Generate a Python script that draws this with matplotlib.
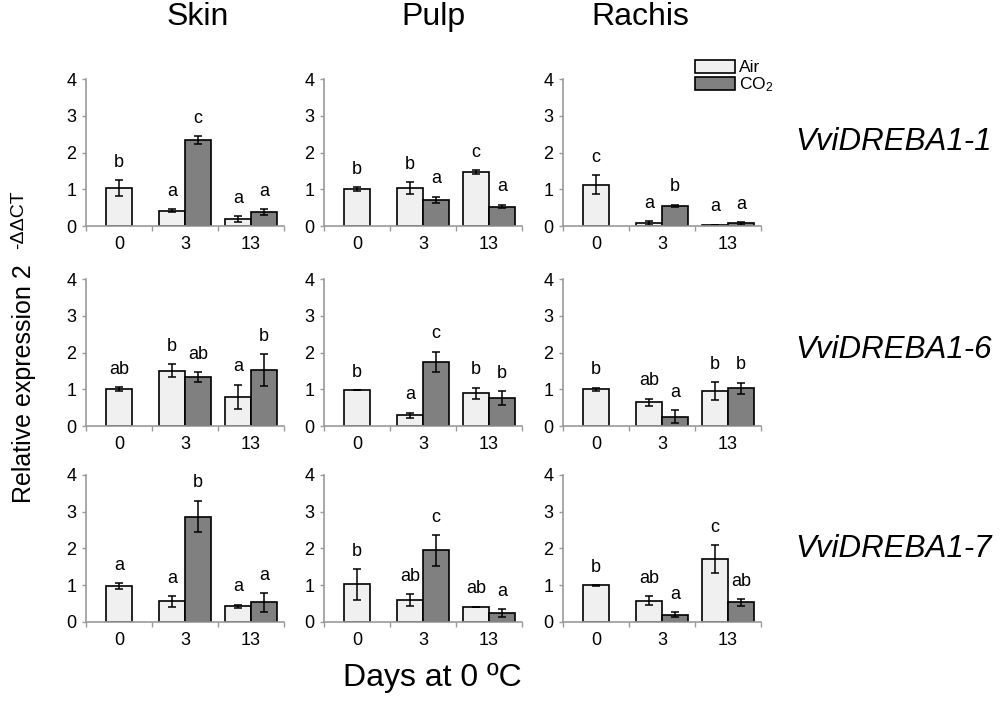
import numpy as np
import matplotlib.pyplot as plt
from matplotlib.ticker import FixedLocator, NullFormatter

plt.rcParams['font.family'] = ['Liberation Sans', 'DejaVu Sans']
plt.rcParams['mathtext.fontset'] = 'custom'
plt.rcParams['mathtext.rm'] = 'Liberation Sans'
plt.rcParams['mathtext.it'] = 'Liberation Sans:italic'

days = ['0', '3', '13']
tissues = ['Skin', 'Pulp', 'Rachis']
genes = ['VviDREBA1-1', 'VviDREBA1-6', 'VviDREBA1-7']

# [gene][tissue] -> values for day 0, 3, 13 (CO2 has no day 0 value)
air = [
    [[1.03, 0.42, 0.19], [1.00, 1.03, 1.47], [1.13, 0.08, 0.03]],
    [[1.01, 1.51, 0.80], [0.98, 0.30, 0.90], [1.00, 0.65, 0.95]],
    [[0.98, 0.56, 0.43], [1.02, 0.60, 0.42], [1.00, 0.58, 1.72]],
]
air_err = [
    [[0.22, 0.04, 0.07], [0.06, 0.16, 0.055], [0.25, 0.05, 0.01]],
    [[0.055, 0.17, 0.33], [0.01, 0.07, 0.15], [0.05, 0.10, 0.25]],
    [[0.08, 0.14, 0.045], [0.42, 0.16, 0.0], [0.01, 0.12, 0.38]],
]
co2 = [
    [[np.nan, 2.33, 0.39], [np.nan, 0.71, 0.53], [np.nan, 0.55, 0.07]],
    [[np.nan, 1.33, 1.53], [np.nan, 1.75, 0.77], [np.nan, 0.26, 1.03]],
    [[np.nan, 2.87, 0.53], [np.nan, 1.95, 0.25], [np.nan, 0.20, 0.53]],
]
co2_err = [
    [[0, 0.11, 0.08], [0, 0.09, 0.05], [0, 0.03, 0.03]],
    [[0, 0.13, 0.43], [0, 0.28, 0.19], [0, 0.18, 0.155]],
    [[0, 0.43, 0.25], [0, 0.42, 0.11], [0, 0.06, 0.095]],
]
air_letters = [
    [['b', 'a', 'a'], ['b', 'b', 'c'], ['c', 'a', 'a']],
    [['ab', 'b', 'a'], ['b', 'a', 'b'], ['b', 'ab', 'b']],
    [['a', 'a', 'a'], ['b', 'ab', 'ab'], ['b', 'ab', 'c']],
]
co2_letters = [
    [['', 'c', 'a'], ['', 'a', 'a'], ['', 'b', 'a']],
    [['', 'ab', 'b'], ['', 'c', 'b'], ['', 'a', 'b']],
    [['', 'b', 'a'], ['', 'c', 'a'], ['', 'a', 'ab']],
]

fig = plt.figure(figsize=(10, 7.02), dpi=100)

lefts = [0.086, 0.324, 0.563]
bottoms = [0.678, 0.393, 0.114]
w, h = 0.198, 0.2094
bw = 0.4
axis_col = '#9a9a9a'

for r in range(3):
    for c in range(3):
        ax = fig.add_axes([lefts[c], bottoms[r], w, h])
        x = np.arange(3)
        a = np.array(air[r][c])
        ae = np.array(air_err[r][c])
        g = np.array(co2[r][c])
        ge = np.array(co2_err[r][c])
        # day 0 has only the air bar, centered
        xa = np.array([0, 1 - bw / 2, 2 - bw / 2])
        xg = np.array([0, 1 + bw / 2, 2 + bw / 2])
        b1 = ax.bar(xa, a, bw, color='#f0f0f0', edgecolor='black', linewidth=1.2,
                    yerr=ae, capsize=3,
                    error_kw=dict(ecolor='black', elinewidth=1.1, capthick=1.1),
                    label='Air', zorder=2)
        b2 = ax.bar(xg[1:], g[1:], bw, color='#808080', edgecolor='black', linewidth=1.2,
                    yerr=ge[1:], capsize=3,
                    error_kw=dict(ecolor='black', elinewidth=1.1, capthick=1.1),
                    label='CO$_2$', zorder=2)
        for i in range(3):
            ax.text(xa[i], a[i] + ae[i] + 0.36, air_letters[r][c][i],
                    ha='center', va='baseline', fontsize=13)
            if co2_letters[r][c][i]:
                ax.text(xg[i], g[i] + ge[i] + 0.36, co2_letters[r][c][i],
                        ha='center', va='baseline', fontsize=13)
        ax.set_xlim(-0.5, 2.5)
        ax.set_ylim(0, 4)
        ax.set_yticks([0, 1, 2, 3, 4])
        ax.set_xticks(x)
        ax.set_xticklabels(days)
        ax.xaxis.set_minor_locator(FixedLocator([-0.5, 0.5, 1.5, 2.5]))
        ax.xaxis.set_minor_formatter(NullFormatter())
        ax.tick_params(axis='x', which='major', length=0, pad=7, labelsize=13)
        ax.tick_params(axis='x', which='minor', length=3.5, color=axis_col, width=1)
        ax.tick_params(axis='y', length=3, color=axis_col, width=1, pad=4, labelsize=13)
        for s in ['top', 'right']:
            ax.spines[s].set_visible(False)
        for s in ['left', 'bottom']:
            ax.spines[s].set_color(axis_col)
            ax.spines[s].set_linewidth(1.2)
        if r == 0 and c == 2:
            fig.legend(handles=[b1, b2], loc='upper left',
                       bbox_to_anchor=(0.695, 0.915), frameon=False,
                       fontsize=12.5, borderpad=0, borderaxespad=0,
                       handlelength=2.3, handleheight=0.8, handletextpad=0.25,
                       labelspacing=0.0)

title_x = [0.198, 0.433, 0.640]
for c in range(3):
    fig.text(title_x[c], 0.976, tissues[c], ha='center', va='center', fontsize=23)

gene_y = [0.7977, 0.5014, 0.2179]
for r in range(3):
    fig.text(0.795, gene_y[r], genes[r], ha='left', va='center', fontsize=22.5,
             style='italic')

fig.text(0.024, 0.453, 'Relative expression 2', rotation=90,
         ha='center', va='center', fontsize=18)
fig.text(0.0185, 0.687, '-ΔΔCT', rotation=90,
         ha='center', va='center', fontsize=14)
fig.text(0.432, 0.034, 'Days at 0 ºC', ha='center', va='center', fontsize=23)

fig.savefig('out.png', dpi=100)
